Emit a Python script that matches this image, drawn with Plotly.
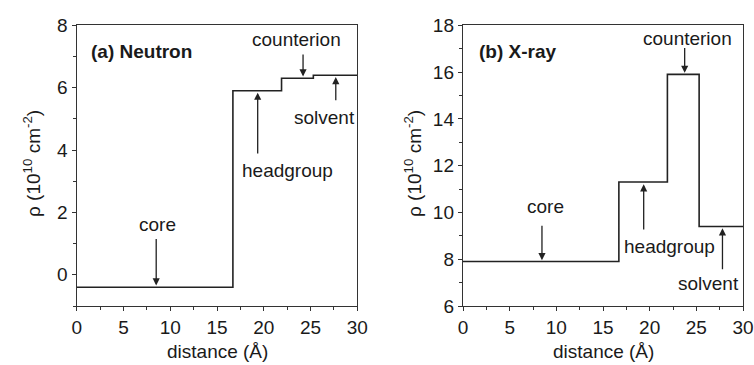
import plotly.graph_objects as go

# ---- data ----
neutron_edges = [0, 16.7, 21.9, 25.3, 30]
neutron_rho = [-0.4, 5.9, 6.3, 6.4]
xray_edges = [0, 16.7, 21.9, 25.3, 30]
xray_rho = [7.9, 11.3, 15.9, 9.4]
x_ticks = [0, 5, 10, 15, 20, 25, 30]
y_ticks_a = [0, 2, 4, 6, 8]
y_ticks_b = [6, 8, 10, 12, 14, 16, 18]

W, H = 754, 365
FONT = "Liberation Sans, Arial, sans-serif"
TXT = "#1a1a1a"
LINE = "#333333"

fig = go.Figure()
fig.add_trace(go.Scatter(x=neutron_edges, y=neutron_rho + [neutron_rho[-1]],
                         mode="lines", line=dict(shape="hv", color="#222", width=1.6),
                         xaxis="x", yaxis="y", showlegend=False))
fig.add_trace(go.Scatter(x=xray_edges, y=xray_rho + [xray_rho[-1]],
                         mode="lines", line=dict(shape="hv", color="#222", width=1.6),
                         xaxis="x2", yaxis="y2", showlegend=False))

def px_x(p):
    return p / W

def px_y(p):
    return 1 - p / H

ydom = [px_y(306), px_y(25.3)]
axis_common = dict(showline=True, linecolor=LINE, linewidth=1.4, mirror=True,
                   ticks="outside", ticklen=4, tickwidth=1.2, tickcolor=LINE,
                   showgrid=False, zeroline=False, automargin=False,
                   tickfont=dict(family=FONT, size=19, color=TXT))
minor_x = dict(ticks="outside", ticklen=3, tickwidth=1, tickcolor=LINE, dtick=2.5, showgrid=False)
minor_y = dict(ticks="outside", ticklen=3, tickwidth=1, tickcolor=LINE, dtick=1, showgrid=False)

fig.update_layout(
    template="none",
    width=W, height=H, autosize=False,
    margin=dict(l=0, r=0, t=0, b=0, pad=0),
    paper_bgcolor="white", plot_bgcolor="white",
    font=dict(family=FONT, color=TXT),
    xaxis=dict(domain=[px_x(76.7), px_x(357.3)], range=[0, 30], tickvals=x_ticks,
               anchor="y", minor=minor_x, **axis_common),
    yaxis=dict(domain=ydom, range=[-1, 8], tickvals=y_ticks_a, anchor="x",
               minor=minor_y, **axis_common),
    xaxis2=dict(domain=[px_x(463), px_x(743)], range=[0, 30], tickvals=x_ticks,
                anchor="y2", minor=minor_x, **axis_common),
    yaxis2=dict(domain=ydom, range=[6, 18], tickvals=y_ticks_b, anchor="x2",
                minor=minor_y, **axis_common),
)

anns = []
def label(text, x, y, xr, yr, bold=False, size=19):
    anns.append(dict(text=f"<b>{text}</b>" if bold else text, x=x, y=y, xref=xr, yref=yr,
                     showarrow=False, xanchor="center", yanchor="middle",
                     font=dict(family=FONT, size=size, color=TXT)))

def arrow(x, y_tail, y_head, xr, yr):
    anns.append(dict(text="", x=x, y=y_head, ax=x, ay=y_tail, xref=xr, yref=yr,
                     axref=xr, ayref=yr, showarrow=True, arrowhead=2, arrowsize=1.1,
                     arrowwidth=1.3, arrowcolor="#222"))

# panel (a)
label("(a) Neutron", 6.98, 7.15, "x", "y", bold=True)
label("counterion", 23.45, 7.53, "x", "y")
arrow(24.2, 7.11, 6.36, "x", "y")
label("solvent", 26.44, 5.03, "x", "y")
arrow(27.7, 5.55, 6.34, "x", "y")
label("headgroup", 22.49, 3.36, "x", "y")
arrow(19.35, 3.84, 5.84, "x", "y")
label("core", 8.69, 1.6, "x", "y")
arrow(8.5, 1.2, -0.34, "x", "y")

# panel (b)
label("(b) X-ray", 5.89, 16.87, "x2", "y2", bold=True)
label("counterion", 24.05, 17.44, "x2", "y2")
arrow(23.75, 17.09, 15.97, "x2", "y2")
label("headgroup", 22.15, 8.56, "x2", "y2")
arrow(19.36, 9.21, 11.2, "x2", "y2")
label("core", 8.82, 10.27, "x2", "y2")
arrow(8.46, 9.5, 7.96, "x2", "y2")
label("solvent", 26.25, 6.97, "x2", "y2")
arrow(27.8, 7.51, 9.32, "x2", "y2")

# axis titles
ytitle = "ρ (10<sup>10</sup> cm<sup>-2</sup>)"
for xc in (32, 413):
    anns.append(dict(text=ytitle, x=px_x(xc), y=px_y(164), xref="paper", yref="paper",
                     showarrow=False, textangle=-90, xanchor="center", yanchor="middle",
                     font=dict(family=FONT, size=19, color=TXT)))
for xc in (217, 603):
    anns.append(dict(text="distance (Å)", x=px_x(xc), y=px_y(351), xref="paper", yref="paper",
                     showarrow=False, xanchor="center", yanchor="middle",
                     font=dict(family=FONT, size=19, color=TXT)))

fig.update_layout(annotations=anns)
fig.write_html("out.html")
